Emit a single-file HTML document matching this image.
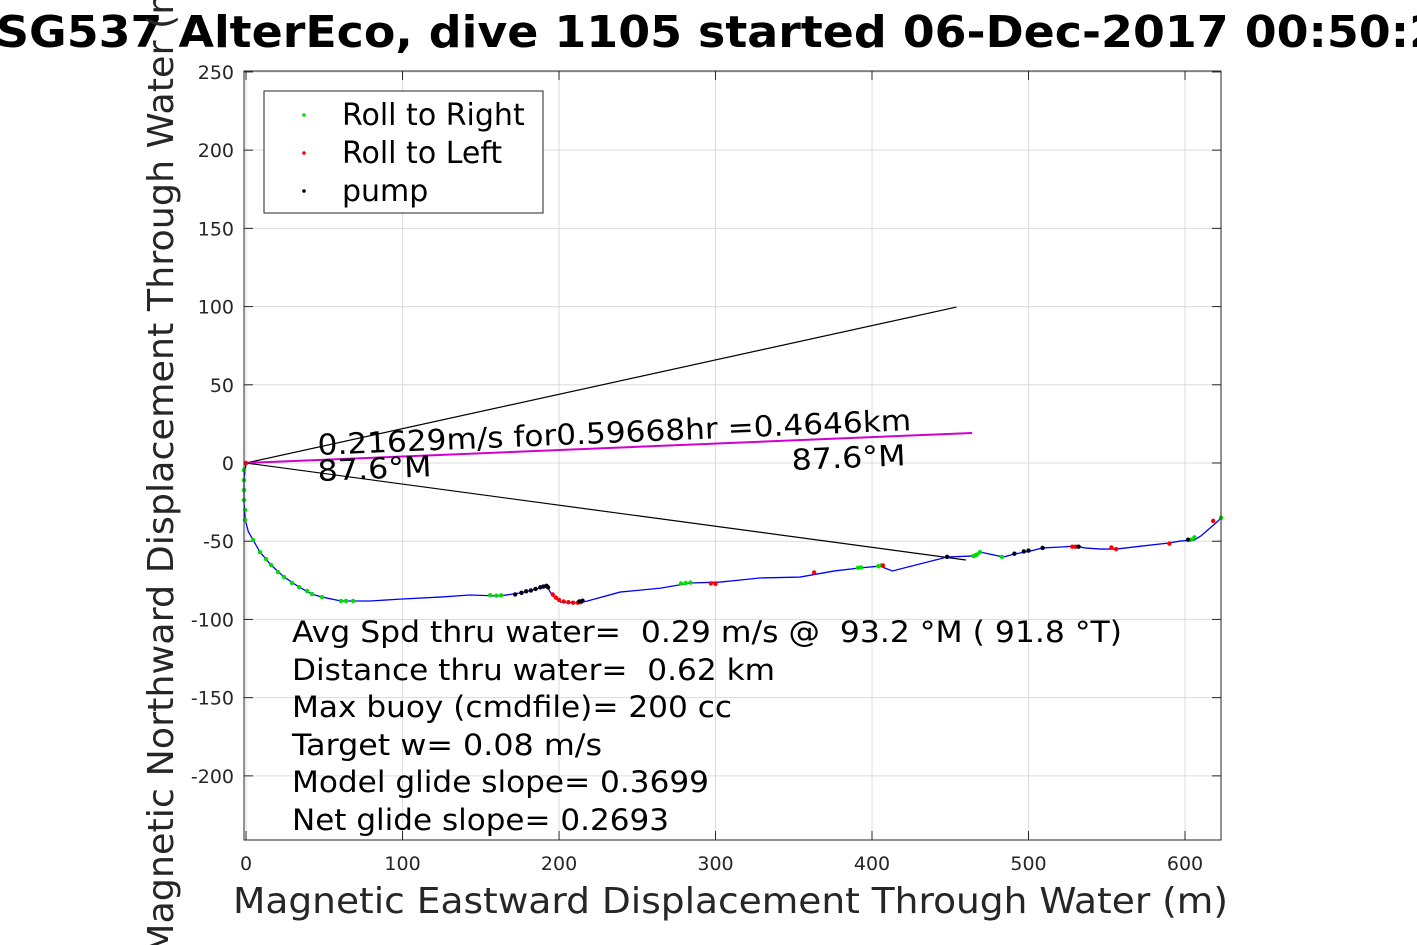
<!DOCTYPE html>
<html><head><meta charset="utf-8"><style>
html,body{margin:0;padding:0;background:#fff;overflow:hidden}
svg{display:block;font-family:"DejaVu Sans","Liberation Sans",sans-serif}
text{white-space:pre}
</style></head><body>
<svg id="chart" width="1417" height="945">
<rect width="1417" height="945" fill="#fff"/>
<g id="grid"></g>
<g id="ticks"></g>
<g id="marks"></g>
<rect x="244" y="71" width="977" height="769" fill="none" stroke="#262626" stroke-width="1"/>
<text x="-4" y="47" font-size="44" font-weight="bold" fill="#000" textLength="1445" lengthAdjust="spacingAndGlyphs">SG537 AlterEco, dive 1105 started 06-Dec-2017 00:50:2</text>
<text x="233" y="913" font-size="36" fill="#262626" textLength="995" lengthAdjust="spacingAndGlyphs">Magnetic Eastward Displacement Through Water (m)</text>
<text transform="translate(173,955) rotate(-90)" font-size="36" fill="#262626" textLength="990" lengthAdjust="spacingAndGlyphs">Magnetic Northward Displacement Through Water (m)</text>
<g>
<rect x="264" y="91" width="279" height="122" fill="#fff" stroke="#262626"/>
<circle cx="304" cy="115" r="1.8" fill="#00e000"/><text x="342" y="125" font-size="30">Roll to Right</text>
<circle cx="304" cy="153" r="1.8" fill="#f00"/><text x="342" y="163" font-size="30">Roll to Left</text>
<circle cx="304" cy="191" r="1.8" fill="#000"/><text x="342" y="201" font-size="30">pump</text>
</g>
<g font-size="29" fill="#000">
<text x="292" y="642" textLength="830" lengthAdjust="spacingAndGlyphs">Avg Spd thru water=  0.29 m/s @  93.2 °M ( 91.8 °T)</text>
<text x="292" y="680" textLength="483" lengthAdjust="spacingAndGlyphs">Distance thru water=  0.62 km</text>
<text x="292" y="717" textLength="440" lengthAdjust="spacingAndGlyphs">Max buoy (cmdfile)= 200 cc</text>
<text x="292" y="755" textLength="310" lengthAdjust="spacingAndGlyphs">Target w= 0.08 m/s</text>
<text x="292" y="792" textLength="417" lengthAdjust="spacingAndGlyphs">Model glide slope= 0.3699</text>
<text x="292" y="830" textLength="377" lengthAdjust="spacingAndGlyphs">Net glide slope= 0.2693</text>
</g>
<text transform="translate(318,455) rotate(-2.4)" font-size="29" textLength="594" lengthAdjust="spacingAndGlyphs">0.21629m/s for0.59668hr =0.4646km</text>
<text transform="translate(318,481) rotate(-2.4)" font-size="29" textLength="114" lengthAdjust="spacingAndGlyphs">87.6°M</text>
<text transform="translate(792,470) rotate(-2.4)" font-size="29" textLength="114" lengthAdjust="spacingAndGlyphs">87.6°M</text>
</svg>
<script>
const xTicks=[0,100,200,300,400,500,600];
const yTicks=[250,200,150,100,50,0,-50,-100,-150,-200];
const trackX=[0,-1.3,-1.3,-0.6,1.5,4.5,8.9,16,24.3,33.9,42.2,48.6,60.7,79.2,98.4,124,143,162,175,188,192,196,201,210,217,239,265,284,303,316,328,354,376,392,405,413,448,463,469,484,491,501,509,521,530,536,546,556,589,597,606,610,619,623];
const trackY=[0,-10,-25,-36,-44,-49.2,-56.9,-65.2,-72.9,-79.3,-83.8,-85.7,-88.2,-88.2,-87,-85.7,-84.4,-85,-83.1,-79.9,-78.6,-85,-88.9,-89.5,-88.5,-82.5,-80,-76.7,-76.1,-74.8,-73.5,-72.9,-69,-67.1,-65.9,-69,-60.1,-59.5,-56.9,-60.1,-58.2,-56.3,-54.3,-53.7,-53.1,-54.3,-55,-55,-51.2,-49.9,-49.2,-46.7,-39,-35.2];
const greenX=[-1.3,-1.3,-1.3,-1.3,-0.6,-0.6,4.5,8.9,12.8,16,20.4,24.3,29.4,33.9,39,42.2,48.6,60.7,63.9,68.4,156,160,163,278,281,284,391,393,404,406,465,466,467,469,483,604,606,623];
const greenY=[-4.5,-10.9,-17.3,-23.7,-30,-36.4,-49.2,-56.9,-61.4,-65.2,-69.7,-72.9,-76.7,-79.3,-81.8,-83.8,-85.7,-88.2,-88.2,-88.2,-84.5,-84.8,-84.6,-77,-76.7,-76.4,-67,-66.8,-66,-65.5,-59.5,-59,-58.5,-57,-60,-49,-47.5,-35];
const redX=[0,196,198,200,203,206,209,212,214,297,300,363,407,528,530,553,556,590,618];
const redY=[0,-84,-86,-87.5,-88.5,-89,-89.3,-89.3,-89,-77,-77.2,-70,-65.5,-53.5,-53.5,-54,-55,-51.5,-37];
const pumpX=[172,176,179,182,185,188,190,192,193,213,215,448,491,497,500,509,532,602];
const pumpY=[-84,-83,-82,-81.5,-80.5,-79.5,-79,-78.5,-79.5,-88.5,-88,-60,-58,-56.5,-56,-54.3,-53.5,-49];
const fanEndX=[454,464,460];
const fanEndY=[99.7,19.2,-62];

const X0=-1.3,X1=623,Y0=-241,Y1=250.6,L=244,R=1221,T=71,B=840;
const sx=v=>L+(v-X0)/(X1-X0)*(R-L);
const sy=v=>B-(v-Y0)/(Y1-Y0)*(B-T);
const NS='http://www.w3.org/2000/svg';
function mk(tag,attrs,parent){const e=document.createElementNS(NS,tag);for(const k in attrs)e.setAttribute(k,attrs[k]);parent.appendChild(e);return e;}
const grid=document.getElementById('grid'),ticks=document.getElementById('ticks'),marks=document.getElementById('marks');
xTicks.forEach(v=>{
 const g=mk('line',{x1:sx(v),x2:sx(v),y1:T,y2:B,stroke:'#dcdcdc','stroke-width':1},grid);
 
 
 mk('line',{x1:sx(v),x2:sx(v),y1:B,y2:B-9,stroke:'#262626'},ticks);
 mk('line',{x1:sx(v),x2:sx(v),y1:T,y2:T+9,stroke:'#262626'},ticks);
 const t=mk('text',{x:sx(v),y:B+30,'font-size':19,fill:'#262626','text-anchor':'middle'},ticks);
 t.textContent=v;
 
 
});
yTicks.forEach(v=>{
 const g=mk('line',{x1:L,x2:R,y1:sy(v),y2:sy(v),stroke:'#dcdcdc','stroke-width':1},grid);
 
 
 mk('line',{x1:L,x2:L+9,y1:sy(v),y2:sy(v),stroke:'#262626'},ticks);
 mk('line',{x1:R,x2:R-9,y1:sy(v),y2:sy(v),stroke:'#262626'},ticks);
 const t=mk('text',{x:L-10,y:sy(v)+7,'font-size':19,fill:'#262626','text-anchor':'end'},ticks);
 t.textContent=v;
 
 
});
fanEndX.forEach((x,i)=>{
 const l=mk('line',{x1:sx(0),y1:sy(0),x2:sx(x),y2:sy(fanEndY[i]),stroke:i===1?'#d000d0':'#000','stroke-width':i===1?2:1.2},marks);
 
 
});
const pl=mk('polyline',{points:trackX.map((x,i)=>sx(x)+','+sy(trackY[i])).join(' '),fill:'none',stroke:'#0000ff','stroke-width':1.3},marks);


function dots(xs,ys,col,name){xs.forEach((x,i)=>{const c=mk('circle',{cx:sx(x),cy:sy(ys[i]),r:2.2,fill:col},marks);
 
 });}
dots(greenX,greenY,'#00e000','roll-right-point');
dots(redX,redY,'#ff0000','roll-left-point');
dots(pumpX,pumpY,'#000010','pump-point');
</script>
</body></html>
